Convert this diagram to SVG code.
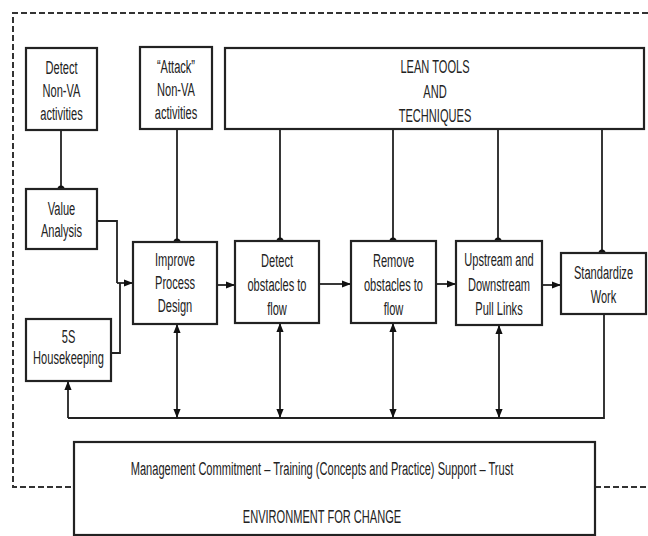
<svg xmlns="http://www.w3.org/2000/svg" width="648" height="536" viewBox="0 0 648 536">
<style>
.box{fill:#fff;stroke:#222;stroke-width:2.2}
.ln{fill:none;stroke:#222;stroke-width:1.8}
.dash{fill:none;stroke:#333;stroke-width:2;stroke-dasharray:6 3}
.t{font-family:"Liberation Sans",Arial,sans-serif;font-size:18px;fill:#222;text-anchor:middle}
.dot{fill:#111}
</style>
<defs>
<marker id="ah" viewBox="0 0 10 8" refX="10" refY="4" markerWidth="9" markerHeight="8" markerUnits="userSpaceOnUse" orient="auto-start-reverse">
<path d="M0,0 L10,4 L0,8 z" fill="#111"/>
</marker>
</defs>
<rect width="648" height="536" fill="#fff"/>
<g id="frame">
<path class="dash" d="M648,13 H13 V487 H74 M595,487 H648"/>
</g>
<g id="connectors">
<path class="ln" d="M61,130 V189"/>
<path class="ln" d="M177,129 V242"/>
<path class="ln" d="M280,129 V241 M393,129 V241 M498,129 V241 M602,129 V253"/>
<path class="ln" d="M97,221 H117 V283 M111,353 H120 V283"/>
<path class="ln" marker-end="url(#ah)" d="M117,283 H133"/>
<path class="ln" marker-end="url(#ah)" d="M217,285 H235"/>
<path class="ln" marker-end="url(#ah)" d="M319,284 H351"/>
<path class="ln" marker-end="url(#ah)" d="M436,284 H456"/>
<path class="ln" marker-end="url(#ah)" d="M542,285 H561"/>
<path class="ln" d="M604,314 V418 H68"/>
<path class="ln" marker-end="url(#ah)" d="M68,418 V381"/>
<path class="ln" marker-start="url(#ah)" marker-end="url(#ah)" d="M177,324 V418"/>
<path class="ln" marker-start="url(#ah)" marker-end="url(#ah)" d="M280,323 V418"/>
<path class="ln" marker-start="url(#ah)" marker-end="url(#ah)" d="M393,323 V418"/>
<path class="ln" marker-start="url(#ah)" marker-end="url(#ah)" d="M499,325 V418"/>
<circle class="dot" cx="61" cy="189" r="3.5"/>
<circle class="dot" cx="177" cy="242" r="3.5"/>
<circle class="dot" cx="280" cy="241" r="3.5"/>
<circle class="dot" cx="393" cy="241" r="3.5"/>
<circle class="dot" cx="498" cy="241" r="3.5"/>
<circle class="dot" cx="602" cy="253" r="3.5"/>
</g>
<g id="detect-nonva">
<rect class="box" x="26" y="48" width="71" height="82"/>
<text class="t" transform="translate(61.5,0) scale(0.615,1)"><tspan x="0" y="74">Detect</tspan><tspan x="0" y="97">Non-VA</tspan><tspan x="0" y="120">activities</tspan></text>
</g>
<g id="attack-nonva">
<rect class="box" x="140" y="47" width="72" height="82"/>
<text class="t" transform="translate(176,0) scale(0.615,1)"><tspan x="0" y="73">“Attack”</tspan><tspan x="0" y="96">Non-VA</tspan><tspan x="0" y="119">activities</tspan></text>
</g>
<g id="lean-tools">
<rect class="box" x="225" y="48" width="419" height="81"/>
<text class="t" transform="translate(435,0) scale(0.615,1)"><tspan x="0" y="73">LEAN TOOLS</tspan><tspan x="0" y="98">AND</tspan><tspan x="0" y="122">TECHNIQUES</tspan></text>
</g>
<g id="value-analysis">
<rect class="box" x="26" y="189" width="71" height="60"/>
<text class="t" transform="translate(61.5,0) scale(0.615,1)"><tspan x="0" y="215">Value</tspan><tspan x="0" y="237">Analysis</tspan></text>
</g>
<g id="housekeeping">
<rect class="box" x="26" y="319" width="85" height="62"/>
<text class="t" transform="translate(68.5,0) scale(0.615,1)"><tspan x="0" y="343">5S</tspan><tspan x="0" y="364">Housekeeping</tspan></text>
</g>
<g id="improve">
<rect class="box" x="133" y="242" width="84" height="82"/>
<text class="t" transform="translate(175,0) scale(0.615,1)"><tspan x="0" y="266">Improve</tspan><tspan x="0" y="289">Process</tspan><tspan x="0" y="312">Design</tspan></text>
</g>
<g id="detect-obstacles">
<rect class="box" x="235" y="241" width="84" height="82"/>
<text class="t" transform="translate(277,0) scale(0.615,1)"><tspan x="0" y="267">Detect</tspan><tspan x="0" y="291">obstacles to</tspan><tspan x="0" y="315">flow</tspan></text>
</g>
<g id="remove-obstacles">
<rect class="box" x="351" y="241" width="85" height="82"/>
<text class="t" transform="translate(393.5,0) scale(0.615,1)"><tspan x="0" y="267">Remove</tspan><tspan x="0" y="291">obstacles to</tspan><tspan x="0" y="315">flow</tspan></text>
</g>
<g id="pull-links">
<rect class="box" x="456" y="241" width="86" height="84"/>
<text class="t" transform="translate(499,0) scale(0.615,1)"><tspan x="0" y="266">Upstream and</tspan><tspan x="0" y="291">Downstream</tspan><tspan x="0" y="315">Pull Links</tspan></text>
</g>
<g id="standardize">
<rect class="box" x="561" y="253" width="85" height="61"/>
<text class="t" transform="translate(603.5,0) scale(0.615,1)"><tspan x="0" y="279">Standardize</tspan><tspan x="0" y="303">Work</tspan></text>
</g>
<g id="environment">
<rect class="box" x="74" y="442" width="521" height="93"/>
<text class="t" transform="translate(322,0) scale(0.615,1)"><tspan x="0" y="475">Management Commitment – Training (Concepts and Practice) Support – Trust</tspan><tspan x="0" y="523">ENVIRONMENT FOR CHANGE</tspan></text>
</g>
</svg>
